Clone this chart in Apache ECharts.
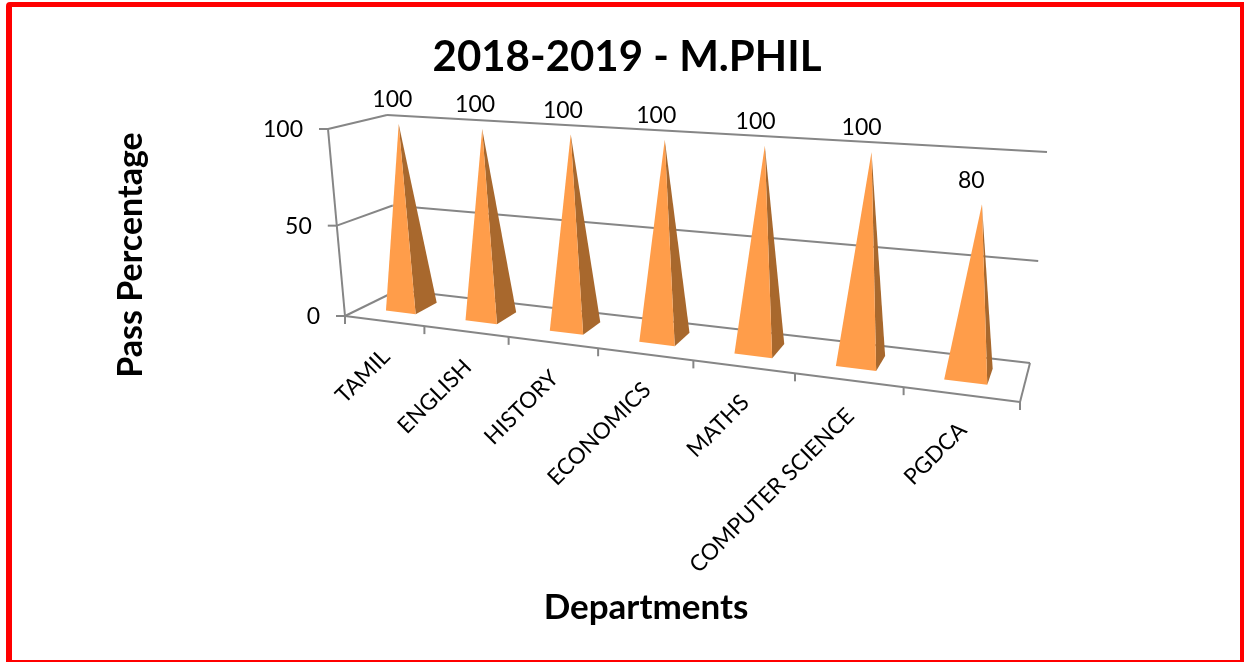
<!DOCTYPE html>
<html>
<head>
<meta charset="utf-8">
<title>2018-2019 - M.PHIL</title>
<script src="https://cdn.jsdelivr.net/npm/echarts@6/dist/echarts.min.js"></script>
<style>
  html, body { margin: 0; padding: 0; background: #fff; }
  #chart { position: absolute; left: 0; top: 0; width: 1244px; height: 662px; }
  #frame {
    position: absolute; left: 6px; top: 2px; right: 0; bottom: 0;
    border-style: solid; border-color: #ff0000; border-width: 5px 4px 2px 6px;
    border-top-left-radius: 4px; pointer-events: none;
  }
</style>
</head>
<body>
<div id="chart"></div>
<div id="frame"></div>
<script>
const categories = ['TAMIL', 'ENGLISH', 'HISTORY', 'ECONOMICS', 'MATHS', 'COMPUTER SCIENCE', 'PGDCA']
const passValues = [100, 100, 100, 100, 100, 100, 80]
const yTicks = [0, 50, 100]

const FONT = 'Lato'
const LINE = '#868686'

// corners of the tilted box on screen: front-left, front-right, back-right, back-left
const floorQuad = [[345, 316], [1020, 402], [1030, 363], [398, 290]]
const topQuad = [[328, 129], [1044, 173.6], [1047, 152], [387, 115]]

function makeHomography (q) {
  const [[x0, y0], [x1, y1], [x2, y2], [x3, y3]] = q
  const dx1 = x1 - x2, dx2 = x3 - x2, sx = x0 - x1 + x2 - x3
  const dy1 = y1 - y2, dy2 = y3 - y2, sy = y0 - y1 + y2 - y3
  const den = dx1 * dy2 - dx2 * dy1
  const g = (sx * dy2 - dx2 * sy) / den
  const h = (dx1 * sy - sx * dy1) / den
  const a = x1 - x0 + g * x1, b = x3 - x0 + h * x3
  const d = y1 - y0 + g * y1, e = y3 - y0 + h * y3
  return (u, v) => {
    const k = g * u + h * v + 1
    return [(a * u + b * v + x0) / k, (d * u + e * v + y0) / k]
  }
}
const floorH = makeHomography(floorQuad)
const topH = makeHomography(topQuad)

// u: along categories, v: depth (0 front, 1 back), w: height (0 floor, 1 top)
function project (u, v, w) {
  const p0 = floorH(u, v)
  const p1 = topH(u, v)
  const t = w / (w + 1.07 * (1 - w))
  return [p0[0] + (p1[0] - p0[0]) * t, p0[1] + (p1[1] - p0[1]) * t]
}

function seg (a, b) {
  return {
    type: 'line',
    shape: { x1: a[0], y1: a[1], x2: b[0], y2: b[1] },
    style: { stroke: LINE, lineWidth: 2 }
  }
}

function label (text, x, y, size, align, rotation) {
  return {
    type: 'text',
    x: x,
    y: y,
    rotation: rotation || 0,
    style: {
      text: text,
      fill: '#000',
      font: size + 'px ' + FONT,
      textAlign: align,
      textVerticalAlign: 'middle'
    }
  }
}

// the axis scales give u and w, the box projection gives the screen position
function toBox (params, api, cat, val) {
  const c = params.coordSys
  const p = api.coord([cat, val])
  return { u: (p[0] - c.x) / c.width, w: (c.y + c.height - p[1]) / c.height }
}

function renderWall (params, api) {
  const tick = api.value(1)
  const w = toBox(params, api, 0, tick).w
  const fl = project(0, 0, w)
  const bl = project(0, 1, w)
  const br = project(1, 1, w)
  const children = [
    seg(fl, bl),
    seg(bl, br),
    seg(fl, [fl[0] - 9, fl[1]]),
    label(String(tick), fl[0] - 25, fl[1] + 1, 23, 'right')
  ]
  if (tick === 0) {
    const fr = project(1, 0, 0)
    children.push(seg(project(0, 0, 0), project(0, 0, 1)))
    children.push(seg(fl, fr))
    children.push(seg(fr, br))
  }
  return { type: 'group', children: children }
}

function renderCategory (params, api) {
  const i = api.value(0)
  const mid = toBox(params, api, i, 0).u
  const half = api.size([1, 0])[0] / params.coordSys.width / 2
  const children = []
  const left = project(mid - half, 0, 0)
  children.push(seg(left, [left[0], left[1] + 8]))
  if (i === categories.length - 1) {
    const right = project(mid + half, 0, 0)
    children.push(seg(right, [right[0], right[1] + 8]))
  }
  const c = project(mid, 0, 0)
  children.push(label(categories[i], c[0] + 2, c[1] + 32, 22.5, 'right', Math.PI / 4))
  return { type: 'group', children: children }
}

function renderPyramid (params, api) {
  const i = api.value(0)
  const val = api.value(1)
  const mid = toBox(params, api, i, 0).u
  const w = toBox(params, api, i, val).w
  const half = api.size([1, 0])[0] / params.coordSys.width * 0.19
  const fl = project(mid - half, 0.31, 0)
  const fr = project(mid + half, 0.31, 0)
  const br = project(mid + half, 0.73, 0)
  const apex = project(mid, 0.5, w)
  return {
    type: 'group',
    children: [
      { type: 'polygon', shape: { points: [fr, br, apex] }, style: { fill: '#a8682d' } },
      { type: 'polygon', shape: { points: [fl, fr, apex] }, style: { fill: '#ff9d4a' } },
      label(String(val), apex[0] - 6 - 5 * mid, apex[1] - 24, 23, 'center')
    ]
  }
}

const chart = echarts.init(document.getElementById('chart'))
chart.setOption({
  animation: false,
  backgroundColor: '#fff',
  title: {
    text: '2018-2019 - M.PHIL',
    left: 622,
    top: 31,
    textAlign: 'center',
    textStyle: { fontFamily: FONT, fontSize: 42, fontWeight: 'bold', color: '#000' }
  },
  // hidden unit grid: only its scales and axis names are used
  grid: { left: 330, top: 128, width: 632, height: 254 },
  xAxis: {
    type: 'category',
    data: categories,
    name: 'Departments',
    nameLocation: 'middle',
    nameGap: 208,
    nameTextStyle: { fontFamily: FONT, fontSize: 35, fontWeight: 'bold', color: '#000' },
    axisLine: { show: false },
    axisTick: { show: false },
    axisLabel: { show: false }
  },
  yAxis: {
    type: 'value',
    min: 0,
    max: 100,
    interval: 50,
    name: 'Pass Percentage',
    nameLocation: 'middle',
    nameGap: 182,
    nameTextStyle: { fontFamily: FONT, fontSize: 34, fontWeight: 'bold', color: '#000' },
    axisLine: { show: false },
    axisTick: { show: false },
    axisLabel: { show: false },
    splitLine: { show: false }
  },
  series: [
    {
      type: 'custom',
      z: 1,
      silent: true,
      renderItem: renderWall,
      data: yTicks.map(t => [0, t])
    },
    {
      type: 'custom',
      z: 1,
      silent: true,
      renderItem: renderCategory,
      data: categories.map((c, i) => [i, 0])
    },
    {
      type: 'custom',
      z: 2,
      silent: true,
      renderItem: renderPyramid,
      data: passValues.map((v, i) => [i, v])
    }
  ]
})
</script>
</body>
</html>
